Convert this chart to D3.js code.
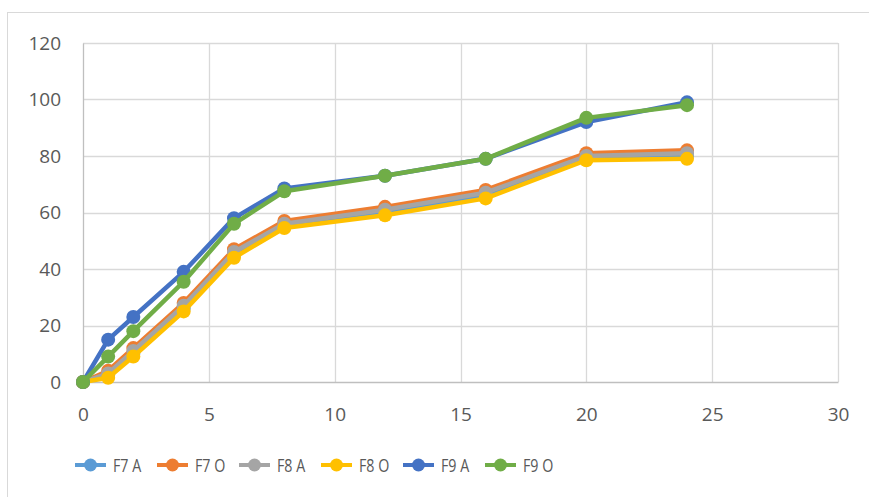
<!DOCTYPE html>
<html>
<head>
<meta charset="utf-8">
<script src="https://cdn.jsdelivr.net/npm/d3@7"></script>
<style>
  body { margin: 0; background: #fff; }
  svg text { font-family: "Open Sans", "Noto Sans", sans-serif; fill: #595959; }
</style>
</head>
<body>
<div id="chart"></div>
<script>
// values
var hours = [0, 1, 2, 4, 6, 8, 12, 16, 20, 24];
var seriesNames = ["F7 A", "F7 O", "F8 A", "F8 O", "F9 A", "F9 O"];
var colors = ["#5B9BD5", "#ED7D31", "#A5A5A5", "#FFC000", "#4472C4", "#70AD47"];
var f7a = [0, 2.5, 10, 26, 45, 55, 60, 66, 79.5, 80];
var f7o = [0, 4, 12, 28, 47, 57, 62, 68, 81, 82];
var f8a = [0, 3, 11, 27, 46, 56, 61, 67, 80, 81];
var f8o = [0, 1.5, 9, 25, 44, 54.5, 59, 65, 78.5, 79];
var f9a = [0, 15, 23, 39, 58, 68.5, 73, 79, 92, 99];
var f9o = [0, 9, 18, 35.5, 56, 67.5, 73, 79, 93.5, 98];
var xTicks = [0, 5, 10, 15, 20, 25, 30];
var yTicks = [0, 20, 40, 60, 80, 100, 120];

var allValues = [f7a, f7o, f8a, f8o, f9a, f9o];
var series = seriesNames.map(function(name, i) {
  return { name: name, color: colors[i],
           points: hours.map(function(h, j) { return { x: h, y: allValues[i][j] }; }) };
});

var W = 869, H = 497;
var svg = d3.select("#chart").append("svg").attr("width", W).attr("height", H);

// outer chart frame
svg.append("rect")
  .attr("x", 7.5).attr("y", 12.5).attr("width", 900).attr("height", 500)
  .attr("fill", "none").attr("stroke", "#d9d9d9");

var x = d3.scaleLinear().domain([0, 30]).range([83, 838]);
var y = d3.scaleLinear().domain([0, 120]).range([382, 43]);

// gridlines
svg.append("g").selectAll("line").data(yTicks.slice(1)).enter().append("line")
  .attr("x1", x(0)).attr("x2", x(30))
  .attr("y1", function(d) { return Math.round(y(d)) + 0.5; })
  .attr("y2", function(d) { return Math.round(y(d)) + 0.5; })
  .attr("stroke", "#d9d9d9").attr("stroke-width", 1.3);
svg.append("g").selectAll("line").data(xTicks.slice(1)).enter().append("line")
  .attr("y1", y(0)).attr("y2", y(120))
  .attr("x1", function(d) { return Math.round(x(d)) + 0.5; })
  .attr("x2", function(d) { return Math.round(x(d)) + 0.5; })
  .attr("stroke", "#d9d9d9").attr("stroke-width", 1.3);

// axes
var xAxis = svg.append("g").attr("transform", "translate(0," + y(0) + ")")
  .call(d3.axisBottom(x).tickValues(xTicks).tickSize(0).tickPadding(26));
var yAxis = svg.append("g").attr("transform", "translate(" + x(0) + ",0)")
  .call(d3.axisLeft(y).tickValues(yTicks).tickSize(0).tickPadding(22));
[xAxis, yAxis].forEach(function(a) {
  a.select(".domain").attr("stroke", "#bfbfbf").attr("stroke-width", 1.3);
  a.selectAll("text").style("font-size", "19px").attr("fill", "#595959");
});

// lines and markers
var line = d3.line().x(function(d) { return x(d.x); }).y(function(d) { return y(d.y); });
var sg = svg.append("g").selectAll("g").data(series).enter().append("g");
sg.append("path")
  .attr("d", function(d) { return line(d.points); })
  .attr("fill", "none")
  .attr("stroke", function(d) { return d.color; })
  .attr("stroke-width", 4.5)
  .attr("stroke-linejoin", "round");
sg.selectAll("circle").data(function(d) { return d.points.map(function(p) { return { p: p, c: d.color }; }); })
  .enter().append("circle")
  .attr("cx", function(d) { return x(d.p.x); })
  .attr("cy", function(d) { return y(d.p.y); })
  .attr("r", 7)
  .attr("fill", function(d) { return d.c; });

// legend (text squeezed a bit, the original uses a narrow font)
var lx = d3.scalePoint().domain(seriesNames).range([75, 485]);
var lg = svg.append("g").attr("class", "legend").selectAll("g").data(series).enter().append("g")
  .attr("transform", function(d) { return "translate(" + lx(d.name) + ",465)"; });
lg.append("line").attr("x1", 0).attr("x2", 31)
  .attr("stroke", function(d) { return d.color; }).attr("stroke-width", 4);
lg.append("circle").attr("cx", 15.5).attr("r", 6.5).attr("fill", function(d) { return d.color; });
lg.append("text").attr("transform", "translate(38,0) scale(0.75,1)").attr("dy", "0.36em")
  .style("font-size", "19px").text(function(d) { return d.name; });
</script>
</body>
</html>
